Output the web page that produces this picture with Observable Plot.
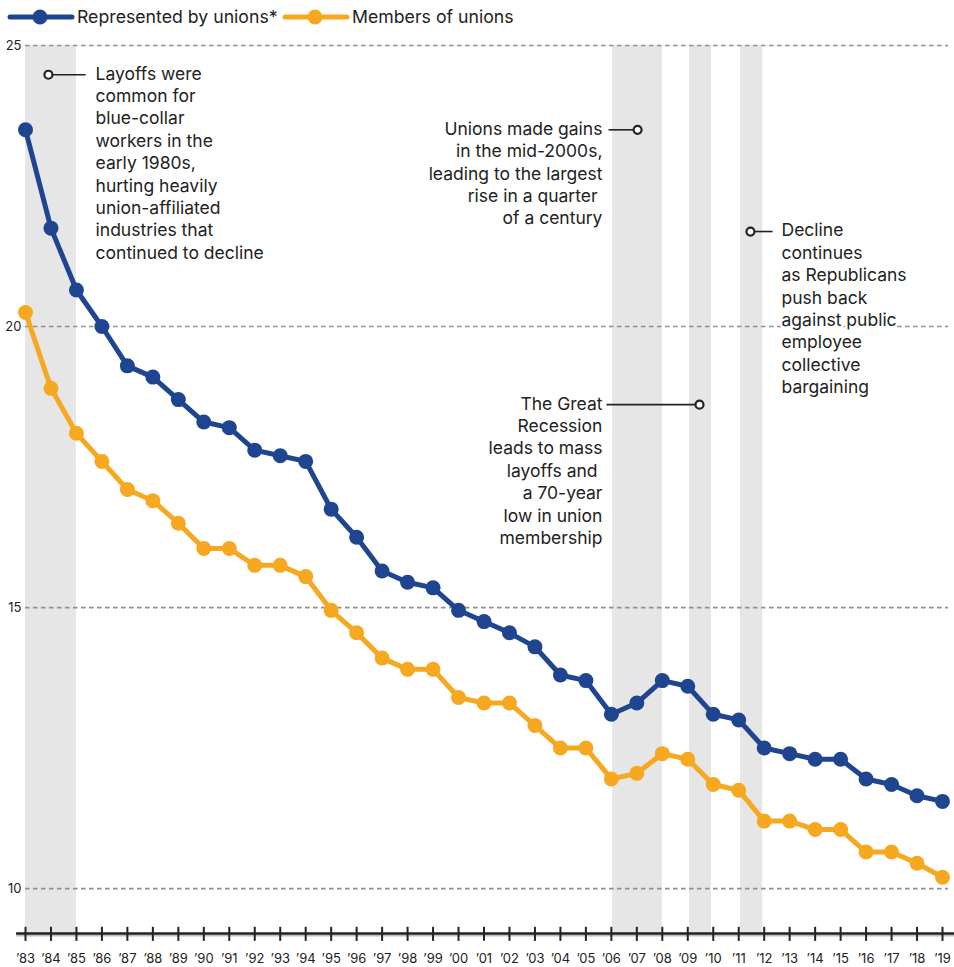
<!DOCTYPE html>
<html>
<head>
<meta charset="utf-8">
<script src="https://cdn.jsdelivr.net/npm/d3@7"></script>
<script src="https://cdn.jsdelivr.net/npm/@observablehq/plot@0.6"></script>
<style>
  html, body { margin: 0; padding: 0; background: #fff; }
  body { font-family: Inter, "Noto Sans", sans-serif; color: #222; width: 954px; }
  #legend { display: block; }
</style>
</head>
<body>
<svg id="legend" width="954" height="30"></svg>
<div id="chart"></div>
<script>
const years = [1983,1984,1985,1986,1987,1988,1989,1990,1991,1992,1993,1994,1995,1996,1997,1998,1999,2000,2001,2002,2003,2004,2005,2006,2007,2008,2009,2010,2011,2012,2013,2014,2015,2016,2017,2018,2019];
const represented = [23.5,21.75,20.65,20.0,19.3,19.1,18.7,18.3,18.2,17.8,17.7,17.6,16.75,16.25,15.65,15.45,15.35,14.95,14.75,14.55,14.3,13.8,13.7,13.1,13.3,13.7,13.6,13.1,13.0,12.5,12.4,12.3,12.3,11.95,11.85,11.65,11.55];
const members = [20.25,18.9,18.1,17.6,17.1,16.9,16.5,16.05,16.05,15.75,15.75,15.55,14.95,14.55,14.1,13.9,13.9,13.4,13.3,13.3,12.9,12.5,12.5,11.95,12.05,12.4,12.3,11.85,11.75,11.2,11.2,11.05,11.05,10.65,10.65,10.45,10.2];
const seriesNames = ["Represented by unions*", "Members of unions"];
const seriesColors = ["#1f4590", "#f6a821"];
const yTicks = [10, 15, 20, 25];
const shaded = [
  {x1: 1983, x2: 1985},
  {x1: 2006.05, x2: 2008},
  {x1: 2009.07, x2: 2009.93},
  {x1: 2011.07, x2: 2011.94}
];
const notes = [
  {cx: 1983.9, cy: 24.48, lx: 1985.36, tx: 1985.75, anchor: "start",
   text: "Layoffs were\ncommon for\nblue-collar\nworkers in the\nearly 1980s,\nhurting heavily\nunion-affiliated\nindustries that\ncontinued to decline"},
  {cx: 2007.03, cy: 23.5, lx: 2005.89, tx: 2005.65, anchor: "end",
   text: "Unions made gains\nin the mid-2000s,\nleading to the largest\nrise in a quarter \nof a century"},
  {cx: 2009.46, cy: 18.61, lx: 2005.81, tx: 2005.65, anchor: "end",
   text: "The Great\nRecession\nleads to mass\nlayoffs and \na 70-year\nlow in union\nmembership"},
  {cx: 2011.46, cy: 21.69, lx: 2012.33, tx: 2012.68, anchor: "start",
   text: "Decline\ncontinues\nas Republicans\npush back\nagainst public\nemployee\ncollective\nbargaining"}
];

const yMin = 9.2, yMax = 25;
const data = [];
years.forEach((y, i) => {
  data.push({year: y, value: represented[i], series: seriesNames[0]});
  data.push({year: y, value: members[i], series: seriesNames[1]});
});

const color = {domain: seriesNames, range: seriesColors};
const noteFont = 17.5;
const noteText = (anchor) => Plot.text(notes.filter(d => d.anchor === anchor), {
  x: "tx", y: "cy", text: "text", textAnchor: anchor, lineAnchor: "top", dy: -11,
  lineHeight: 22.4 / noteFont, fontSize: noteFont, fill: "#222", stroke: "white", strokeWidth: 5
});

const chart = Plot.plot({
  width: 954,
  height: 937,
  marginLeft: 25,
  marginRight: 12,
  marginTop: 15,
  marginBottom: 34,
  style: {fontFamily: "Inter, 'Noto Sans', sans-serif", fontSize: "13px", color: "#222", background: "#fff"},
  x: {domain: [1983, 2019], axis: null},
  y: {domain: [yMin, yMax], axis: null},
  color,
  marks: [
    Plot.rect(shaded, {x1: "x1", x2: "x2", y1: yMin, y2: yMax, fill: "#e6e6e6"}),
    Plot.ruleY(yTicks, {x1: 1983, x2: 2019.24, stroke: "#8f8f8f", strokeWidth: 1.7, strokeDasharray: "4.5,3.5"}),
    Plot.text(yTicks, {x: 1983, y: d => d, text: d => String(d), dx: -4, textAnchor: "end", fontSize: 13, fill: "#222"}),
    Plot.ruleY([yMin], {x1: 1982.65, x2: 2019.5, stroke: "#bdbdbd", strokeWidth: 2, dy: 2}),
    Plot.ruleY([yMin], {x1: 1982.65, x2: 2019.5, stroke: "#222", strokeWidth: 2.5}),
    Plot.ruleX(years, {x: d => d, y1: yMin + 0.11, y2: yMin - 0.14, stroke: "#222", strokeWidth: 2}),
    Plot.text(years, {x: d => d, y: yMin, dy: 25, text: d => "\u2019" + String(d).slice(2), fontSize: 13, fill: "#222"}),
    Plot.line(data, {x: "year", y: "value", z: "series", stroke: "series", strokeWidth: 5, strokeLinejoin: "round", strokeLinecap: "round"}),
    Plot.dot(data, {x: "year", y: "value", fill: "series", r: 7.5}),
    noteText("start"),
    noteText("end"),
    Plot.link(notes, {x1: "cx", y1: "cy", x2: "lx", y2: "cy", stroke: "#222", strokeWidth: 1.6}),
    Plot.dot(notes, {x: "cx", y: "cy", r: 4, fill: "white", stroke: "#222", strokeWidth: 2.2})
  ]
});
document.getElementById("chart").appendChild(chart);

// legend
const lg = d3.select("#legend");
const items = [
  {name: seriesNames[0], color: seriesColors[0], x0: 10},
  {name: seriesNames[1], color: seriesColors[1], x0: 285}
];
items.forEach(it => {
  lg.append("line").attr("x1", it.x0).attr("x2", it.x0 + 62).attr("y1", 17).attr("y2", 17)
    .attr("stroke", it.color).attr("stroke-width", 5).attr("stroke-linecap", "round");
  lg.append("circle").attr("cx", it.x0 + 30).attr("cy", 17).attr("r", 7.5).attr("fill", it.color);
  lg.append("text").attr("x", it.x0 + 67).attr("y", 17).attr("dy", "0.35em")
    .attr("font-family", "Inter, 'Noto Sans', sans-serif").attr("font-size", 17.7).attr("fill", "#222").text(it.name);
});
</script>
</body>
</html>
